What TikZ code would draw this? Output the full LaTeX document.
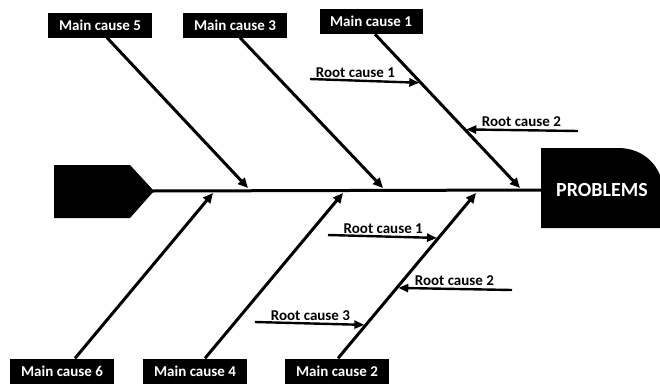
\documentclass[tikz,border=0pt]{standalone}
\usepackage{fontspec}
\setmainfont{Carlito}
\usetikzlibrary{arrows.meta}

\tikzset{
  cause/.style={fill=black, text=white, font=\bfseries\fontsize{15}{17}\selectfont,
    minimum width=104, minimum height=25, inner sep=2},
  bone/.style={line width=3, -{Triangle[length=10,width=9]}},
  root/.style={line width=2.4, -{Triangle[length=10,width=8]}, shorten >=1.5},
  rootlabel/.style={font=\bfseries\fontsize{15}{17}\selectfont, above, inner sep=2},
}

\begin{document}
\begin{tikzpicture}[x=1pt, y=-1pt]
    \useasboundingbox (0,0) rectangle (660,383);

    % tail and head of the fish
    \fill (54,165) -- (130,165) -- (154,191) -- (130,218) -- (54,218) -- cycle;
    \coordinate (tail) at (152,191);
    \fill (541,148) -- (618,148) .. controls (644,148) and (662,166) .. (664,192)
        -- (664,228) -- (541,228) -- cycle;
    \node[text=white, font=\bfseries\fontsize{20}{22}\selectfont] (prob) at (602,190) {PROBLEMS};
    \coordinate (head) at (542,190);
    \draw[line width=3] (tail) -- (head);

    % main causes
    \node[cause] (m5) at (100,25) {Main cause 5};
    \node[cause] (m3) at (235,25) {Main cause 3};
    \node[cause, minimum width=103] (m1) at (371,21.5) {Main cause 1};
    \node[cause] (m6) at (62,371) {Main cause 6};
    \node[cause] (m4) at (195,371) {Main cause 4};
    \node[cause] (m2) at (337,371) {Main cause 2};

    \coordinate (s5) at (248,188);
    \coordinate (s3) at (383,188);
    \coordinate (s1) at (520,188);
    \coordinate (s6) at (213,193);
    \coordinate (s4) at (343,193);
    \coordinate (s2) at (476,193);

    \draw[bone] ([xshift=7]m5.south) -- (s5);
    \draw[bone] ([xshift=5]m3.south) -- (s3);
    \draw[bone] ([xshift=4]m1.south) -- (s1)
        coordinate[pos=0.316] (r11) coordinate[pos=0.619] (r12);
    \draw[bone] ([xshift=13]m6.north) -- (s6);
    \draw[bone] ([xshift=10]m4.north) -- (s4);
    \draw[bone] ([xshift=1]m2.north) -- (s2)
        coordinate[pos=0.728] (r21) coordinate[pos=0.426] (r22) coordinate[pos=0.202] (r23);

    % root causes
    \coordinate (a11) at (310,79);
    \coordinate (a12) at (578,131);
    \coordinate (a21) at (328,235);
    \coordinate (a22) at (512,290);
    \coordinate (a23) at (255,322);
    \draw[root] (a11) -- (r11) node[rootlabel, pos=0.41] {Root cause 1};
    \draw[root] (a12) -- (r12) node[rootlabel, midway] {Root cause 2};
    \draw[root] (a21) -- (r21) node[rootlabel, midway] {Root cause 1};
    \draw[root] (a22) -- (r22) node[rootlabel, midway] {Root cause 2};
    \draw[root] (a23) -- (r23) node[rootlabel, midway] {Root cause 3};
\end{tikzpicture}
\end{document}
